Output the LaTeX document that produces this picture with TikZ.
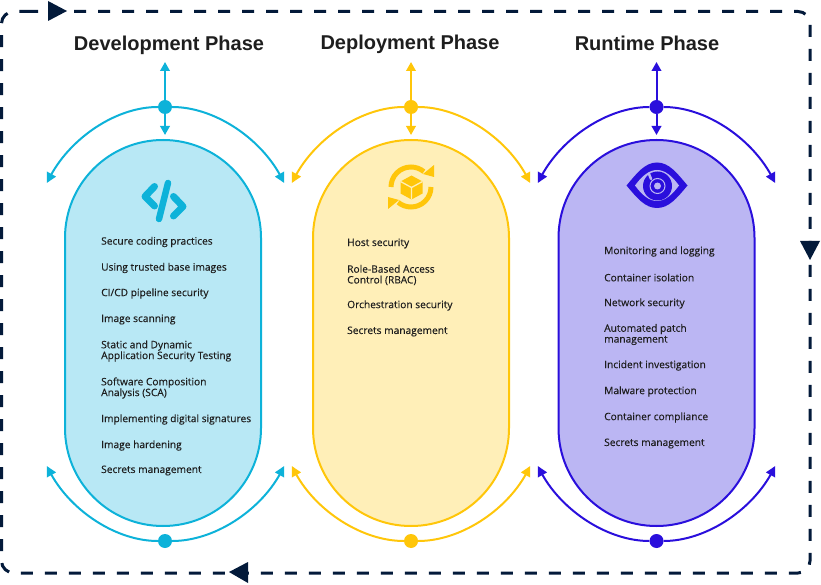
\documentclass[tikz,border=0pt]{standalone}
\usepackage{fontspec}
\setmainfont{Liberation Sans}
\newfontfamily\itemfont[RawFeature={embolden=0.3}]{Open Sans}
\usetikzlibrary{arrows.meta,bending,positioning}

\definecolor{devline}{HTML}{0DB2D9}
\definecolor{devfill}{HTML}{B8E8F5}
\definecolor{depline}{HTML}{FFC60A}
\definecolor{depfill}{HTML}{FFEFB8}
\definecolor{runline}{HTML}{2A0FDC}
\definecolor{runfill}{HTML}{BBB6F3}
\definecolor{loopnavy}{HTML}{031A3A}
\definecolor{inktext}{HTML}{1E1E1E}

\begin{document}
\begin{tikzpicture}[
                x=1pt, y=1pt,
                title/.style={anchor=base, font=\fontsize{20}{22}\selectfont\bfseries, text=inktext},
                pill/.style={rectangle, line width=2pt, rounded corners=97.9pt, minimum width=196pt, minimum height=386pt},
                item/.style={anchor=west, align=left, inner sep=0pt, yshift=-1pt, text=inktext, font=\itemfont\fontsize{10.2}{10.8}\selectfont},
                dot/.style={circle, inner sep=0pt, minimum size=14pt},
                rarr/.style={-{Triangle[length=9pt,width=9.5pt]}, line width=2pt},
                barr/.style={-{Triangle[length=10pt,width=10pt,bend]}, line width=2pt, looseness=0.85},
                looptip/.style={fill=loopnavy},
            ]
            \useasboundingbox (0,0) rectangle (821,584);
            % outer loop
            \draw[loopnavy, line width=3pt, dash pattern=on 12pt off 12pt]
                (26,572.5) -- (798,572.5) to[out=0,in=90] (810,560.5) -- (810,23) to[out=-90,in=0] (798,11) -- (14,11) to[out=180,in=-90] (1.5,23) -- (1.5,560.5) to[out=90,in=180] (14,572.5) -- cycle;
            \fill[looptip] (48,583) -- (67,573) -- (48,563) -- cycle;
            \fill[looptip] (800,343) -- (820,343) -- (810,324) -- cycle;
            \fill[looptip] (248,22) -- (229,12) -- (248,1) -- cycle;

            % titles
            \node[title] (devtitle) at (169,533) {Development Phase};
            \node[title] (deptitle) at (410,534) {Deployment Phase};
            \node[title] (runtitle) at (647,533) {Runtime Phase};

            % phases
            \node[pill, draw=devline, fill=devfill] (devpill) at (163,251) {};
            \node[pill, draw=depline, fill=depfill] (deppill) at (411,251) {};
            \node[pill, draw=runline, fill=runfill] (runpill) at (656.5,251) {};

            % development arrows
            \node[dot, fill=devline] (devtop) at (165,477) {};
            \node[dot, fill=devline] (devbot) at (165,43) {};
            \coordinate (devup) at (165,522);
            \coordinate (devdown) at (165,449);
            \coordinate (devtl) at (47,401);
            \coordinate (devtr) at (284,401);
            \coordinate (devbl) at (47,118);
            \coordinate (devbr) at (284,118);
            \draw[rarr, devline] (devtop) -- (devup);
            \draw[rarr, devline] (devtop) -- (devdown);
            \draw[barr, devline] (devtop) to[out=180,in=66] (devtl);
            \draw[barr, devline] (devtop) to[out=0,in=114] (devtr);
            \draw[barr, devline] (devbot) to[out=180,in=-66] (devbl);
            \draw[barr, devline] (devbot) to[out=0,in=-114] (devbr);

            % deployment arrows
            \node[dot, fill=depline] (deptop) at (411,477) {};
            \node[dot, fill=depline] (depbot) at (411,43) {};
            \coordinate (depup) at (411,522);
            \coordinate (depdown) at (411,449);
            \coordinate (deptl) at (292,401);
            \coordinate (deptr) at (530,401);
            \coordinate (depbl) at (292,118);
            \coordinate (depbr) at (530,118);
            \draw[rarr, depline] (deptop) -- (depup);
            \draw[rarr, depline] (deptop) -- (depdown);
            \draw[barr, depline] (deptop) to[out=180,in=66] (deptl);
            \draw[barr, depline] (deptop) to[out=0,in=114] (deptr);
            \draw[barr, depline] (depbot) to[out=180,in=-66] (depbl);
            \draw[barr, depline] (depbot) to[out=0,in=-114] (depbr);

            % runtime arrows
            \node[dot, fill=runline] (runtop) at (656.5,477) {};
            \node[dot, fill=runline] (runbot) at (656.5,43) {};
            \coordinate (runup) at (656.5,522);
            \coordinate (rundown) at (656.5,449);
            \coordinate (runtl) at (538,401);
            \coordinate (runtr) at (775,401);
            \coordinate (runbl) at (538,118);
            \coordinate (runbr) at (775,118);
            \draw[rarr, runline] (runtop) -- (runup);
            \draw[rarr, runline] (runtop) -- (rundown);
            \draw[barr, runline] (runtop) to[out=180,in=66] (runtl);
            \draw[barr, runline] (runtop) to[out=0,in=114] (runtr);
            \draw[barr, runline] (runbot) to[out=180,in=-66] (runbl);
            \draw[barr, runline] (runbot) to[out=0,in=-114] (runbr);

            % code icon
            \draw[devline, line width=6.5pt, line cap=round] (168,401) -- (159,365);
            \draw[devline, line width=7pt, line cap=round, line join=round] (154.5,397.5) -- (145,387.5) -- (154.5,378);
            \draw[devline, line width=7pt, line cap=round, line join=round] (173.5,387.5) -- (183,377.5) -- (173.5,368);

            % cube icon
            \draw[depline, line width=5pt] (391,397) arc[start angle=180, end angle=50, radius=20];
            \draw[depline, line width=5pt] (431,397) arc[start angle=0, end angle=-130, radius=20];
            \fill[depline] (434,419) -- (434,407) -- (423,410) -- cycle;
            \fill[depline] (388,375) -- (388,387) -- (399,384) -- cycle;
            \fill[depline] (411.5,408.5) -- (422.5,402.5) -- (422.5,390.5) -- (411.5,384.5) -- (400.5,390.5) -- (400.5,402.5) -- cycle;
            \draw[depfill, line width=1.3pt] (400.5,402.5) -- (411.5,396.5) -- (422.5,402.5) (411.5,396.5) -- (411.5,384.5);

            % eye icon
            \fill[runline] (626.5,398.5) .. controls (637,411) and (645,421.5) .. (657,421.5) .. controls (669,421.5) and (677,411) .. (687.5,398.5) .. controls (677,386) and (669,376) .. (657,376) .. controls (645,376) and (637,386) .. (626.5,398.5) -- cycle;
            \fill[runfill] (635,398.5) .. controls (642,408) and (649,414) .. (657,414) .. controls (665,414) and (672,408) .. (679,398.5) .. controls (672,389) and (665,383) .. (657,383) .. controls (649,383) and (642,389) .. (635,398.5) -- cycle;
            \fill[runline] (657.5,398) circle[radius=14.5];
            \draw[runfill, line width=2.5pt, line cap=round] (649,410) -- (651,405);
            \draw[runfill, line width=1pt] (657.5,398) circle[radius=7.5];
            \fill[runfill] (657.5,398) circle[radius=3.5];

            % development list
            \node[item] (dev1) at (101,343) {Secure coding practices};
            \node[item] (dev2) at (101,317) {Using trusted base images};
            \node[item] (dev3) at (101,291.5) {CI/CD pipeline security};
            \node[item] (dev4) at (101,265.5) {Image scanning};
            \node[item] (dev5) at (101,234) {Static and Dynamic\\Application Security Testing};
            \node[item] (dev6) at (101,197) {Software Composition\\Analysis (SCA)};
            \node[item] (dev7) at (101,165.5) {Implementing digital signatures};
            \node[item] (dev8) at (101,139.5) {Image hardening};
            \node[item] (dev9) at (101,114.5) {Secrets management};

            % deployment list
            \node[item] (dep1) at (347,341.5) {Host security};
            \node[item] (dep2) at (347,310) {Role-Based Access\\Control (RBAC)};
            \node[item] (dep3) at (347,279.5) {Orchestration security};
            \node[item] (dep4) at (347,253.5) {Secrets management};

            % runtime list
            \node[item] (run1) at (604,333.5) {Monitoring and logging};
            \node[item] (run2) at (604,307.5) {Container isolation};
            \node[item] (run3) at (604,281.5) {Network security};
            \node[item] (run4) at (604,250.5) {Automated patch\\management};
            \node[item] (run5) at (604,219.5) {Incident investigation};
            \node[item] (run6) at (604,193.5) {Malware protection};
            \node[item] (run7) at (604,167.5) {Container compliance};
            \node[item] (run8) at (604,141.5) {Secrets management};
        \end{tikzpicture}
\end{document}
